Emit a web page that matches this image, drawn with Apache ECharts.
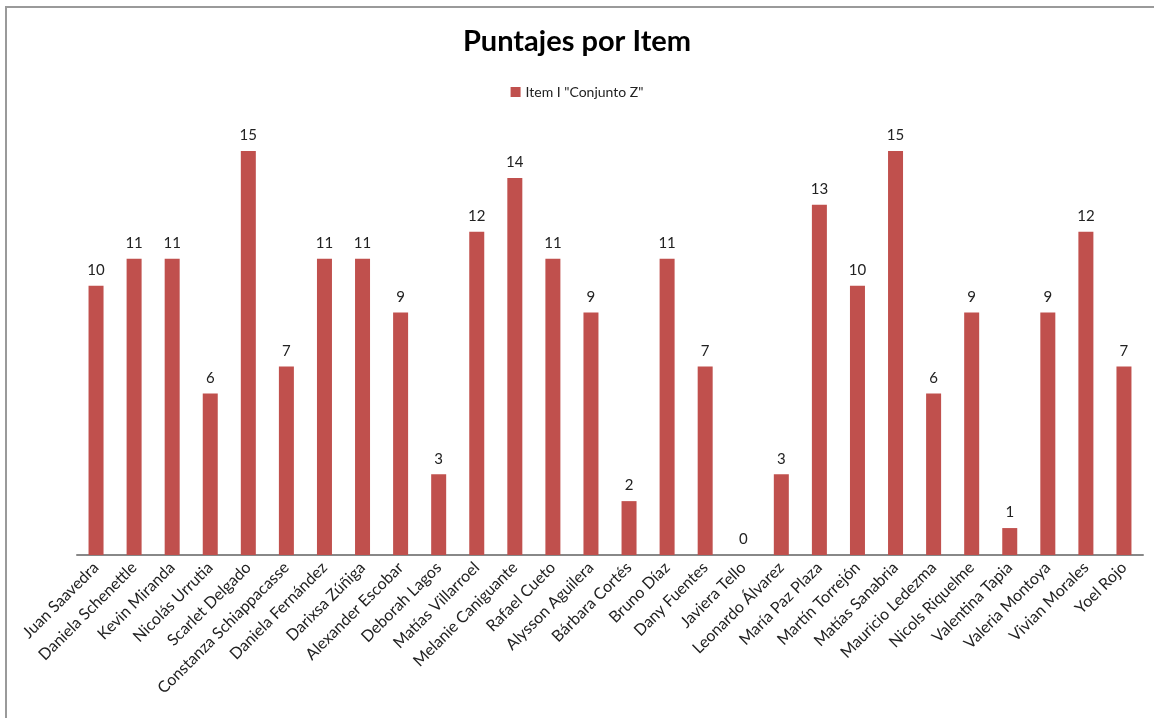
<!DOCTYPE html>
<html>
<head>
<meta charset="utf-8">
<script src="https://cdn.jsdelivr.net/npm/echarts@6/dist/echarts.min.js"></script>
<style>
  html, body { margin: 0; padding: 0; background: #fff; }
  #chart { width: 1154px; height: 718px; }
</style>
</head>
<body>
<div id="chart"></div>
<script>
const students = [
  'Juan Saavedra', 'Daniela Schenettle', 'Kevin Miranda', 'Nicolás Urrutia',
  'Scarlet Delgado', 'Constanza Schiappacasse', 'Daniela Fernández', 'Darixsa Zúñiga',
  'Alexander Escobar', 'Deborah Lagos', 'Matías Villarroel', 'Melanie Caniguante',
  'Rafael Cueto', 'Alysson Aguilera', 'Bárbara Cortés', 'Bruno Díaz',
  'Dany Fuentes', 'Javiera Tello', 'Leonardo Álvarez', 'María Paz Plaza',
  'Martín Torrejón', 'Matías Sanabria', 'Mauricio Ledezma', 'Nicols Riquelme',
  'Valentina Tapia', 'Valeria Montoya', 'Vivian Morales', 'Yoel Rojo'
];
const scores = [
  10, 11, 11, 6, 15, 7, 11, 11, 9, 3, 12, 14, 11, 9,
  2, 11, 7, 0, 3, 13, 10, 15, 6, 9, 1, 9, 12, 7
];
const seriesName = 'Item I "Conjunto Z"';
const chartTitle = 'Puntajes por Item';

const FONT = 'Lato, "Open Sans", sans-serif';
const chart = echarts.init(document.getElementById('chart'));
chart.setOption({
  animation: false,
  backgroundColor: '#ffffff',
  title: {
    text: chartTitle,
    left: 'center',
    top: 22,
    textStyle: { fontFamily: FONT, fontSize: 29, fontWeight: 'bold', color: '#000' }
  },
  legend: {
    top: 80,
    left: 'center',
    itemWidth: 10,
    itemHeight: 10,
    itemGap: 4,
    icon: 'rect',
    textStyle: { fontFamily: FONT, fontSize: 14, color: '#222' },
    data: [seriesName]
  },
  grid: { left: 77, right: 11, top: 124, bottom: 163 },
  xAxis: {
    type: 'category',
    data: students,
    axisLine: { lineStyle: { color: '#888', width: 2 } },
    axisTick: { show: false },
    axisLabel: {
      interval: 0,
      rotate: 45,
      margin: 10,
      fontFamily: FONT,
      fontSize: 16,
      color: '#222'
    }
  },
  yAxis: {
    type: 'value',
    min: 0,
    max: 16,
    show: false,
    splitLine: { show: false }
  },
  series: [{
    name: seriesName,
    type: 'bar',
    data: scores,
    barWidth: 15,
    itemStyle: { color: '#C0504D' },
    label: {
      show: true,
      position: 'top',
      distance: 8,
      fontFamily: FONT,
      fontSize: 15,
      color: '#222'
    }
  }],
  graphic: [{
    type: 'polyline',
    shape: { points: [[6, 718], [6, 7], [1154, 7]] },
    style: { stroke: '#9a9a9a', lineWidth: 2, fill: null },
    silent: true
  }]
});
</script>
</body>
</html>
